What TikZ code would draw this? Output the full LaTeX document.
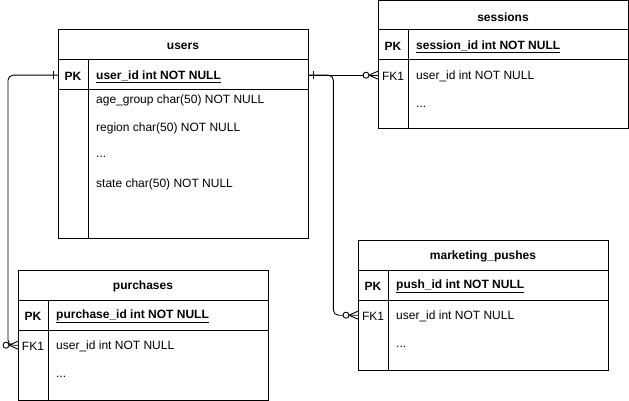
\documentclass[tikz,border=0pt]{standalone}
\usepackage{fontspec}
\setmainfont{Liberation Sans}
\newcommand\crowend[1]{%
  \draw[erm] ([xshift=-9pt]#1.west) -- ([yshift=4pt]#1.west)
              ([xshift=-9pt]#1.west) -- ([yshift=-4pt]#1.west);
  \draw[erm,fill=white] ([xshift=-12pt]#1.west) circle (3pt);}
\newcommand\onetick[2]{%
  \draw[erm] ([xshift=#2]#1) ++(0,-4) -- ++(0,8);}
\begin{document}
\begin{tikzpicture}[x=1pt,y=-1pt,
  tbl/.style={draw=black, line width=1pt},
  txt/.style={font=\fontsize{12}{14}\selectfont, inner sep=0pt, yshift=-1.5pt},
  ttl/.style={txt, font=\fontsize{12}{14}\selectfont\bfseries, anchor=center},
  fld/.style={txt, anchor=west},
  keyb/.style={txt, font=\fontsize{12}{14}\selectfont\bfseries, anchor=center},
  keyn/.style={txt, anchor=center},
  rowbox/.style={inner sep=0pt, minimum width=250pt, minimum height=30pt, anchor=north west},
  conn/.style={draw=black, line width=0.9pt, rounded corners=5pt},
  erm/.style={draw=black, line width=0.9pt}]
\useasboundingbox (0,0) rectangle (629,401);

% ---------- users ----------
\draw[tbl] (58,30) rectangle (308,238);
\draw[tbl] (58,60) -- (308,60) (58,90) -- (308,90) (88,60) -- (88,238);
\node[ttl] (users) at (183,45) {users};
\node[rowbox] (urow) at (58,60) {};
\node[keyb] (upkk) at (73,75) {PK};
\node[fld] (upk) at (96,75) {\bfseries\underline{user\_id int NOT NULL}};
\node[fld] (uf1) at (96,99) {age\_group char(50) NOT NULL};
\node[fld] (uf2) at (96,127) {region char(50) NOT NULL};
\node[fld] (uf3) at (96,155) {...};
\node[fld] (uf4) at (96,183) {state char(50) NOT NULL};

% ---------- sessions ----------
\draw[tbl] (378,1) rectangle (628,129);
\draw[tbl] (378,30) -- (628,30) (378,60) -- (628,60) (408,30) -- (408,129);
\node[ttl] (sessions) at (503,16) {sessions};
\node[keyb] (spkk) at (393,45) {PK};
\node[fld] (spk) at (416,45) {\bfseries\underline{session\_id int NOT NULL}};
\node[rowbox] (srow) at (378,60) {};
\node[keyn] (sfkk) at (393,75) {FK1};
\node[fld] (sf1) at (416,75) {user\_id int NOT NULL};
\node[fld] (sf2) at (416,105) {...};

% ---------- purchases ----------
\draw[tbl] (18,270) rectangle (268,400);
\draw[tbl] (18,300) -- (268,300) (18,330) -- (268,330) (48,300) -- (48,400);
\node[ttl] (purchases) at (143,285) {purchases};
\node[keyb] (ppkk) at (33,315) {PK};
\node[fld] (ppk) at (56,315) {\bfseries\underline{purchase\_id int NOT NULL}};
\node[rowbox] (prow) at (18,330) {};
\node[keyn] (pfkk) at (33,345) {FK1};
\node[fld] (pf1) at (56,345) {user\_id int NOT NULL};
\node[fld] (pf2) at (56,375) {...};

% ---------- marketing_pushes ----------
\draw[tbl] (358,240) rectangle (608,370);
\draw[tbl] (358,270) -- (608,270) (358,300) -- (608,300) (388,270) -- (388,370);
\node[ttl] (marketing) at (483,255) {marketing\_pushes};
\node[keyb] (mpkk) at (373,285) {PK};
\node[fld] (mpk) at (396,285) {\bfseries\underline{push\_id int NOT NULL}};
\node[rowbox] (mrow) at (358,300) {};
\node[keyn] (mfkk) at (373,315) {FK1};
\node[fld] (mf1) at (396,315) {user\_id int NOT NULL};
\node[fld] (mf2) at (396,345) {...};

% ---------- connectors ----------
\draw[conn] (urow.west) -- ++(-50,0) |- (prow.west);
\draw[conn] (urow.east) -- (srow.west);
\draw[conn] (urow.east) -- ++(25,0) |- (mrow.west);

\onetick{urow.west}{-5pt}
\onetick{urow.east}{5pt}
\crowend{srow}
\crowend{mrow}
\crowend{prow}
\end{tikzpicture}
\end{document}
